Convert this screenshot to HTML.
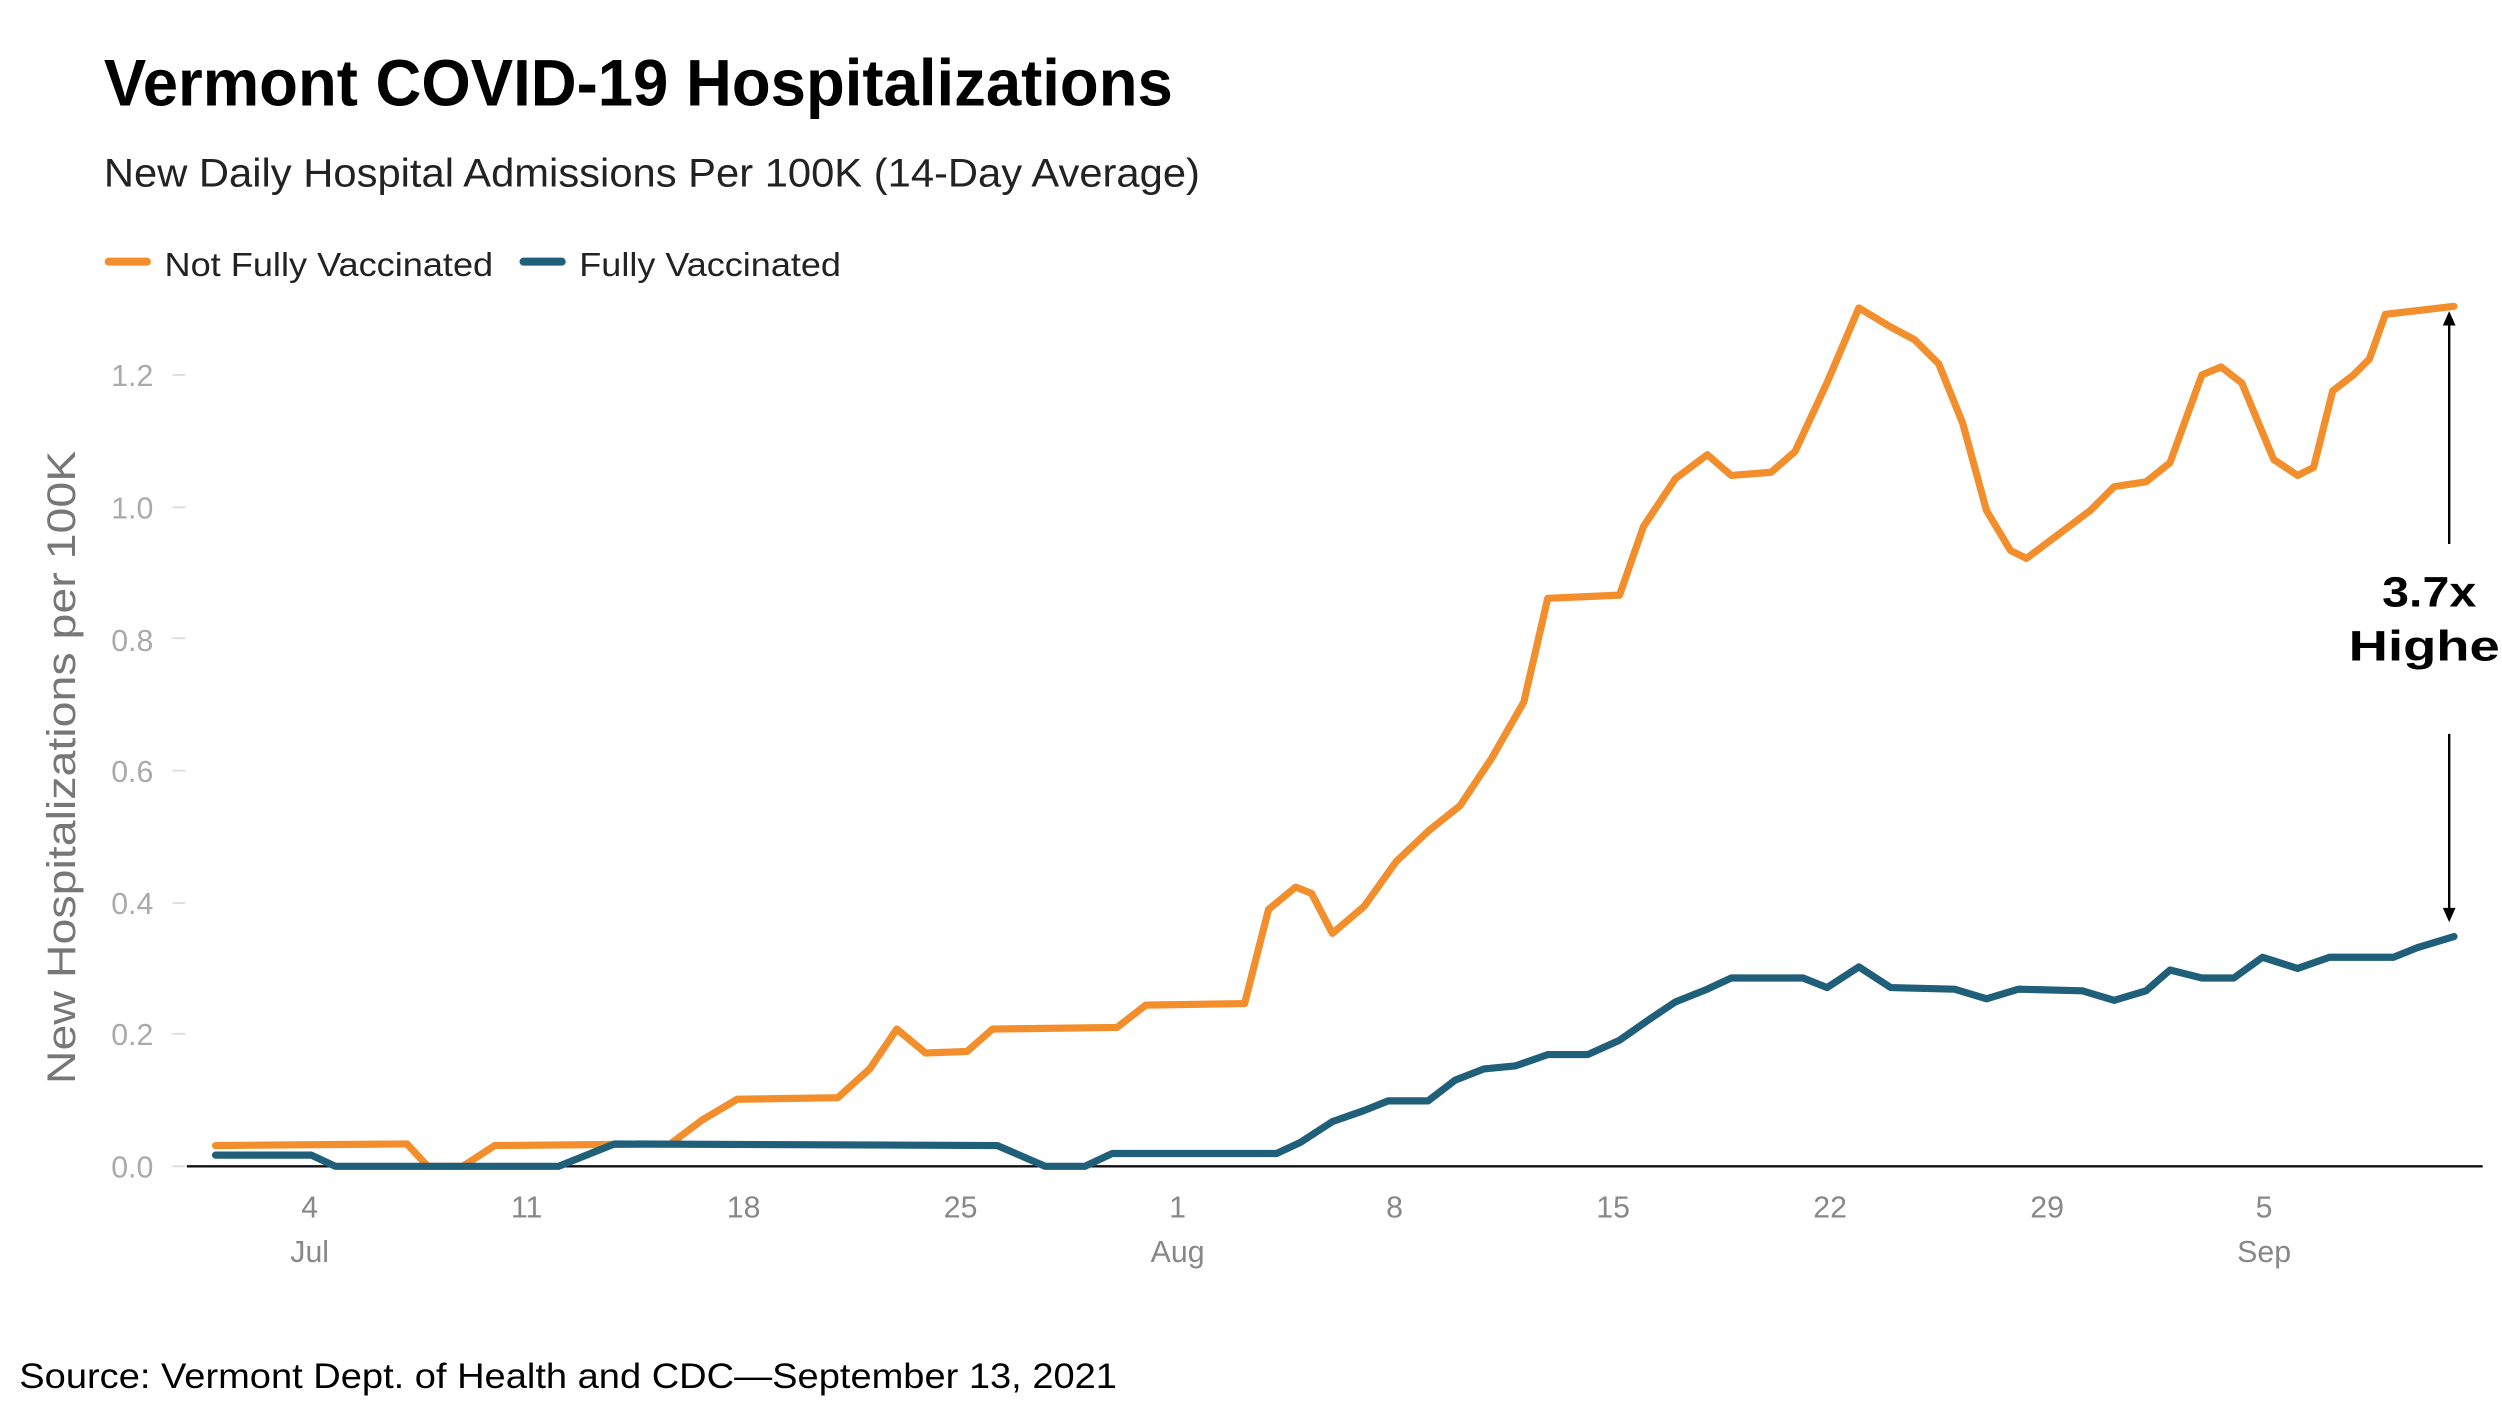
<!DOCTYPE html>
<html><head><meta charset="utf-8"><style>
html,body{margin:0;padding:0;background:#fff;overflow:hidden;}
svg{display:block;}
</style></head><body>
<svg width="2502" height="1404" viewBox="0 0 1568 880" xmlns="http://www.w3.org/2000/svg" font-family="'Liberation Sans', sans-serif">
<rect width="1568" height="880" fill="#fff"/>
<text x="65" y="66" font-size="41" font-weight="bold" fill="#000" textLength="670" lengthAdjust="spacingAndGlyphs">Vermont COVID-19 Hospitalizations</text>
<text x="65" y="117" font-size="25" fill="#222" textLength="687" lengthAdjust="spacingAndGlyphs">New Daily Hospital Admissions Per 100K (14-Day Average)</text>
<line x1="68" y1="164" x2="92" y2="164" stroke="#f28e2b" stroke-width="5" stroke-linecap="round"/>
<text x="103" y="173" font-size="21" fill="#222" textLength="206" lengthAdjust="spacingAndGlyphs">Not Fully Vaccinated</text>
<line x1="328" y1="164" x2="352" y2="164" stroke="#1f5f7a" stroke-width="5" stroke-linecap="round"/>
<text x="363" y="173" font-size="21" fill="#222" textLength="164" lengthAdjust="spacingAndGlyphs">Fully Vaccinated</text>
<g font-size="19" fill="#aaa" text-anchor="end">
<text x="96" y="242">1.2</text><text x="96" y="325">1.0</text><text x="96" y="408">0.8</text>
<text x="96" y="490">0.6</text><text x="96" y="573">0.4</text><text x="96" y="655">0.2</text><text x="96" y="738">0.0</text>
</g>
<g stroke="#ddd" stroke-width="1.2">
<line x1="108" y1="235" x2="116" y2="235"/><line x1="108" y1="318" x2="116" y2="318"/><line x1="108" y1="400" x2="116" y2="400"/>
<line x1="108" y1="483" x2="116" y2="483"/><line x1="108" y1="566" x2="116" y2="566"/><line x1="108" y1="648" x2="116" y2="648"/><line x1="108" y1="731" x2="116" y2="731"/>
</g>
<text transform="translate(47,481) rotate(-90)" font-size="25" fill="#777" text-anchor="middle" textLength="397" lengthAdjust="spacingAndGlyphs">New Hospitalizations per 100K</text>
<line x1="117" y1="731" x2="1556" y2="731" stroke="#111" stroke-width="1.5"/>
<g font-size="19" fill="#888" text-anchor="middle">
<text x="194" y="763">4</text><text x="330" y="763">11</text><text x="466" y="763">18</text><text x="602" y="763">25</text>
<text x="738" y="763">1</text><text x="874" y="763">8</text><text x="1011" y="763">15</text><text x="1147" y="763">22</text>
<text x="1283" y="763">29</text><text x="1419" y="763">5</text>
<text x="194" y="791">Jul</text><text x="738" y="791">Aug</text><text x="1419" y="791">Sep</text>
</g>
<polyline fill="none" stroke="#f28e2b" stroke-width="4.5" stroke-linejoin="round" stroke-linecap="round" points="135,718 255,717 268,731 290,731 310,718 420,717 440,702 462,689 525,688 545,670 562,645 580,660 606,659 622,645 700,644 718,630 780,629 795,570 812,556 822,560 835,585 855,568 875,540 895,521 915,505 935,475 955,440 970,375 1015,373 1030,330 1050,300 1070,285 1085,298 1110,296 1125,283 1145,240 1165,193 1185,205 1200,213 1215,228 1230,265 1245,320 1260,345 1270,350 1290,335 1310,320 1325,305 1345,302 1360,290 1380,235 1392,230 1405,240 1425,288 1440,298 1450,293 1462,245 1475,235 1485,225 1495,197 1538,192"/>
<polyline fill="none" stroke="#1f5f7a" stroke-width="4.5" stroke-linejoin="round" stroke-linecap="round" points="135,724 195,724 210,731 350,731 385,717 625,718 655,731 680,731 697,723 800,723 815,716 835,703 855,696 870,690 895,690 912,677 930,670 950,668 970,661 995,661 1015,652 1035,638 1050,628 1070,620 1085,613 1130,613 1145,619 1165,606 1185,619 1225,620 1245,626 1265,620 1305,621 1325,627 1345,621 1360,608 1380,613 1400,613 1418,600 1440,607 1460,600 1500,600 1515,594 1538,587"/>
<line x1="1535" y1="202" x2="1535" y2="341" stroke="#000" stroke-width="1.5"/>
<polygon points="1535,195 1531,204 1539,204" fill="#000"/>
<line x1="1535" y1="460" x2="1535" y2="571" stroke="#000" stroke-width="1.5"/>
<polygon points="1535,578 1531,569 1539,569" fill="#000"/>
<g font-size="27" font-weight="bold" fill="#000">
<text x="1493" y="380" textLength="59" lengthAdjust="spacingAndGlyphs">3.7x</text>
<text x="1472" y="414" textLength="108" lengthAdjust="spacingAndGlyphs">Higher</text>
</g>
<text x="12" y="870" font-size="22" fill="#000" textLength="688" lengthAdjust="spacingAndGlyphs">Source: Vermont Dept. of Health and CDC—September 13, 2021</text>
</svg>
</body></html>
